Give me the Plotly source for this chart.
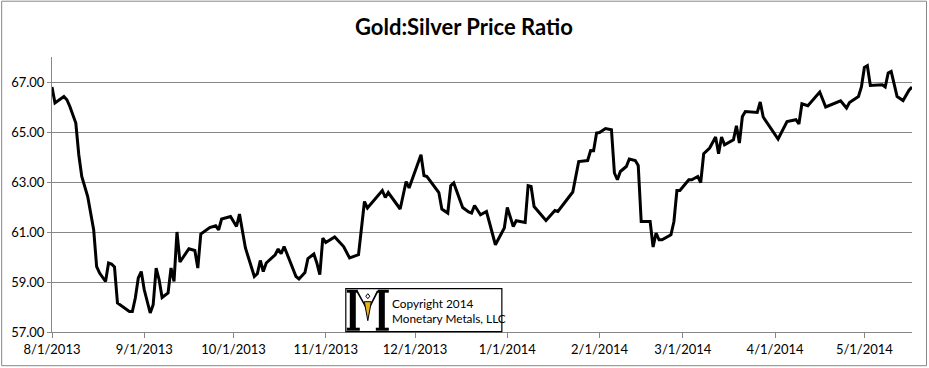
import plotly.graph_objects as go

dates = [
    "2013-08-01", "2013-08-02", "2013-08-05", "2013-08-06", "2013-08-07", "2013-08-08", "2013-08-09",
    "2013-08-10", "2013-08-11", "2013-08-13", "2013-08-14", "2013-08-15", "2013-08-16", "2013-08-17",
    "2013-08-19", "2013-08-20", "2013-08-21", "2013-08-22", "2013-08-23", "2013-08-27", "2013-08-28",
    "2013-08-29", "2013-08-30", "2013-08-31",
    "2013-09-01", "2013-09-03", "2013-09-04", "2013-09-05", "2013-09-06", "2013-09-07", "2013-09-09",
    "2013-09-10", "2013-09-11", "2013-09-12", "2013-09-13", "2013-09-16", "2013-09-18", "2013-09-19",
    "2013-09-20", "2013-09-23", "2013-09-25", "2013-09-26", "2013-09-27", "2013-09-30",
    "2013-10-02", "2013-10-03", "2013-10-05", "2013-10-08", "2013-10-09", "2013-10-10", "2013-10-11",
    "2013-10-12", "2013-10-15", "2013-10-16", "2013-10-17", "2013-10-18", "2013-10-20", "2013-10-22",
    "2013-10-23", "2013-10-25", "2013-10-26", "2013-10-28", "2013-10-29", "2013-10-30", "2013-10-31",
    "2013-11-01", "2013-11-04", "2013-11-06", "2013-11-07", "2013-11-09", "2013-11-12", "2013-11-14",
    "2013-11-15", "2013-11-20", "2013-11-21", "2013-11-22", "2013-11-26", "2013-11-28", "2013-11-29",
    "2013-12-03", "2013-12-04", "2013-12-05", "2013-12-09", "2013-12-10", "2013-12-12", "2013-12-13",
    "2013-12-14", "2013-12-17", "2013-12-19", "2013-12-20", "2013-12-21", "2013-12-23", "2013-12-25",
    "2013-12-26", "2013-12-28", "2013-12-31",
    "2014-01-01", "2014-01-03", "2014-01-04", "2014-01-07", "2014-01-08", "2014-01-09", "2014-01-10",
    "2014-01-14", "2014-01-15", "2014-01-17", "2014-01-18", "2014-01-23", "2014-01-25", "2014-01-28",
    "2014-01-29", "2014-01-30", "2014-01-31",
    "2014-02-01", "2014-02-03", "2014-02-05", "2014-02-06", "2014-02-07", "2014-02-08", "2014-02-10",
    "2014-02-11", "2014-02-13", "2014-02-14", "2014-02-15", "2014-02-18", "2014-02-19", "2014-02-20",
    "2014-02-21", "2014-02-22", "2014-02-25", "2014-02-26", "2014-02-27", "2014-02-28",
    "2014-03-03", "2014-03-04", "2014-03-06", "2014-03-07", "2014-03-08", "2014-03-10", "2014-03-12",
    "2014-03-13", "2014-03-14", "2014-03-15", "2014-03-18", "2014-03-19", "2014-03-20", "2014-03-21",
    "2014-03-22", "2014-03-26", "2014-03-27", "2014-03-28",
    "2014-04-02", "2014-04-05", "2014-04-08", "2014-04-09", "2014-04-10", "2014-04-12", "2014-04-16",
    "2014-04-18", "2014-04-23", "2014-04-25", "2014-04-26", "2014-04-29", "2014-04-30",
    "2014-05-01", "2014-05-02", "2014-05-03", "2014-05-07", "2014-05-08", "2014-05-09", "2014-05-10",
    "2014-05-12", "2014-05-14", "2014-05-16", "2014-05-17",
]

ratio = [
    66.80, 66.16, 66.42, 66.29, 66.02, 65.69, 65.36,
    64.09, 63.22, 62.42, 61.77, 61.09, 59.62, 59.36,
    59.02, 59.76, 59.72, 59.60, 58.16, 57.82, 57.82,
    58.36, 59.16, 59.42,
    58.69, 57.76, 58.09, 59.56, 59.09, 58.38, 58.56,
    59.56, 59.02, 61.00, 59.80, 60.33, 60.26, 59.56,
    60.92, 61.18, 61.25, 61.09, 61.52, 61.62,
    61.22, 61.72, 60.36, 59.22, 59.33, 59.86, 59.42,
    59.76, 60.09, 60.32, 60.13, 60.42, 59.82, 59.22,
    59.12, 59.38, 59.94, 60.12, 59.76, 59.29, 60.76,
    60.58, 60.80, 60.53, 60.42, 59.96, 60.09, 62.22,
    61.96, 62.66, 62.38, 62.58, 61.92, 63.02, 62.76,
    64.09, 63.26, 63.22, 62.58, 61.92, 61.76, 62.85,
    62.96, 61.98, 61.80, 61.76, 62.06, 61.69, 61.82,
    61.38, 60.49, 61.16,
    61.98, 61.22, 61.45, 61.38, 62.85, 62.82, 62.02,
    61.46, 61.60, 61.86, 61.82, 62.60, 63.82, 63.86,
    64.26, 64.25, 64.96,
    64.98, 65.14, 65.09, 63.36, 63.09, 63.42, 63.62,
    63.92, 63.86, 63.66, 61.42, 61.42, 60.40, 60.96,
    60.69, 60.69, 60.89, 61.42, 62.66, 62.66,
    63.09, 63.09, 63.22, 62.98, 64.13, 64.36, 64.80,
    64.13, 64.80, 64.49, 64.69, 65.25, 64.56, 65.62,
    65.82, 65.78, 66.20, 65.60,
    64.72, 65.42, 65.49, 65.32, 66.13, 66.05, 66.60,
    66.00, 66.25, 65.96, 66.18, 66.42, 66.80,
    67.58, 67.65, 66.86, 66.89, 66.80, 67.36, 67.42,
    66.42, 66.26, 66.67, 66.80,
]

y_ticks = [57, 59, 61, 63, 65, 67]
title_text = "Gold:Silver Price Ratio"
copyright_lines = ["Copyright 2014", "Monetary Metals, LLC"]

# pixel geometry helpers (layout only)
L, R, T, B = 52.3, 912.0, 57.3, 332.3
W, H = 929, 368
def px(xp):
    return (xp - L) / (R - L)
def py(yp):
    return (B - yp) / (B - T)

FONT = "Lato, Open Sans, sans-serif"
GRAY = "#878787"

fig = go.Figure()
fig.add_trace(go.Scatter(
    x=dates, y=ratio, mode="lines",
    line=dict(color="#000000", width=3),
    showlegend=False, hoverinfo="x+y",
))

shapes = []
# outer chart border
shapes.append(dict(type="rect", xref="paper", yref="paper",
                   x0=px(2), x1=px(926.5), y0=py(366), y1=py(1.5),
                   line=dict(color=GRAY, width=1), fillcolor="rgba(0,0,0,0)", layer="below"))
# copyright box
shapes.append(dict(type="rect", xref="paper", yref="paper",
                   x0=px(346), x1=px(502), y0=py(332), y1=py(289),
                   line=dict(color="#000000", width=1.2), fillcolor="#ffffff", layer="above"))

def poly(points, fill, lw=0, lc="#000000"):
    d = "M " + " L ".join(f"{px(a):.5f},{py(b):.5f}" for a, b in points) + " Z"
    return dict(type="path", xref="paper", yref="paper", path=d,
                fillcolor=fill, line=dict(color=lc, width=lw), layer="above")

# stylised "M" logo
shapes += [
    poly([(350, 292), (356, 292), (356, 329), (350, 329)], "#000"),
    poly([(347, 328), (360, 328), (360, 331), (347, 331)], "#000"),
    poly([(347, 290), (358, 290), (358, 293), (347, 293)], "#000"),
    poly([(379, 292), (385, 292), (385, 329), (379, 329)], "#000"),
    poly([(376, 328), (389, 328), (389, 331), (376, 331)], "#000"),
    poly([(378, 290), (389, 290), (389, 293), (378, 293)], "#000"),
    poly([(356, 291), (358, 291), (368.8, 311), (367.2, 311)], "#000"),
    poly([(377, 291), (379, 291), (368.8, 311), (367.2, 311)], "#000"),
    poly([(368, 294), (370, 296.5), (368, 299), (366, 296.5)], "#ffffff", 1),
    poly([(364.5, 302), (371.5, 302), (368, 321)], "#E8B020", 1),
]

annotations = [
    dict(text=title_text, xref="paper", yref="paper", x=px(464.5), y=py(27),
         xanchor="center", yanchor="middle", showarrow=False,
         font=dict(family=FONT, size=22, color="#000000", weight="bold")),
    dict(text="<br>".join(copyright_lines), xref="paper", yref="paper",
         x=px(390), y=py(311.5), xanchor="left", yanchor="middle", align="left",
         showarrow=False, font=dict(family=FONT, size=11.8, color="#000000")),
]

fig.update_layout(
    width=W, height=H,
    margin=dict(l=L, r=W - R, t=T, b=H - B, pad=0),
    paper_bgcolor="#ffffff", plot_bgcolor="#ffffff",
    font=dict(family=FONT, size=13, color="#000000"),
    shapes=shapes, annotations=annotations,
    xaxis=dict(type="date", range=["2013-08-01", "2014-05-17"],
               tick0="2013-08-01", dtick="M1", tickformat="%-m/%-d/%Y",
               showgrid=False, showline=True, linecolor=GRAY, linewidth=1,
               ticks="outside", ticklen=5, tickcolor=GRAY,
               tickfont=dict(family=FONT, size=13, color="#000000"), zeroline=False),
    yaxis=dict(range=[57, 68], tickvals=y_ticks, tickformat=".2f",
               showgrid=True, gridcolor=GRAY, gridwidth=1,
               showline=True, linecolor=GRAY, linewidth=1,
               ticks="outside", ticklen=4, tickcolor=GRAY,
               tickfont=dict(family=FONT, size=13, color="#000000"), zeroline=False),
)

fig.write_html("out.html", config={"displayModeBar": False},
               post_script="document.body.style.margin='0px';document.body.style.padding='0px';")
